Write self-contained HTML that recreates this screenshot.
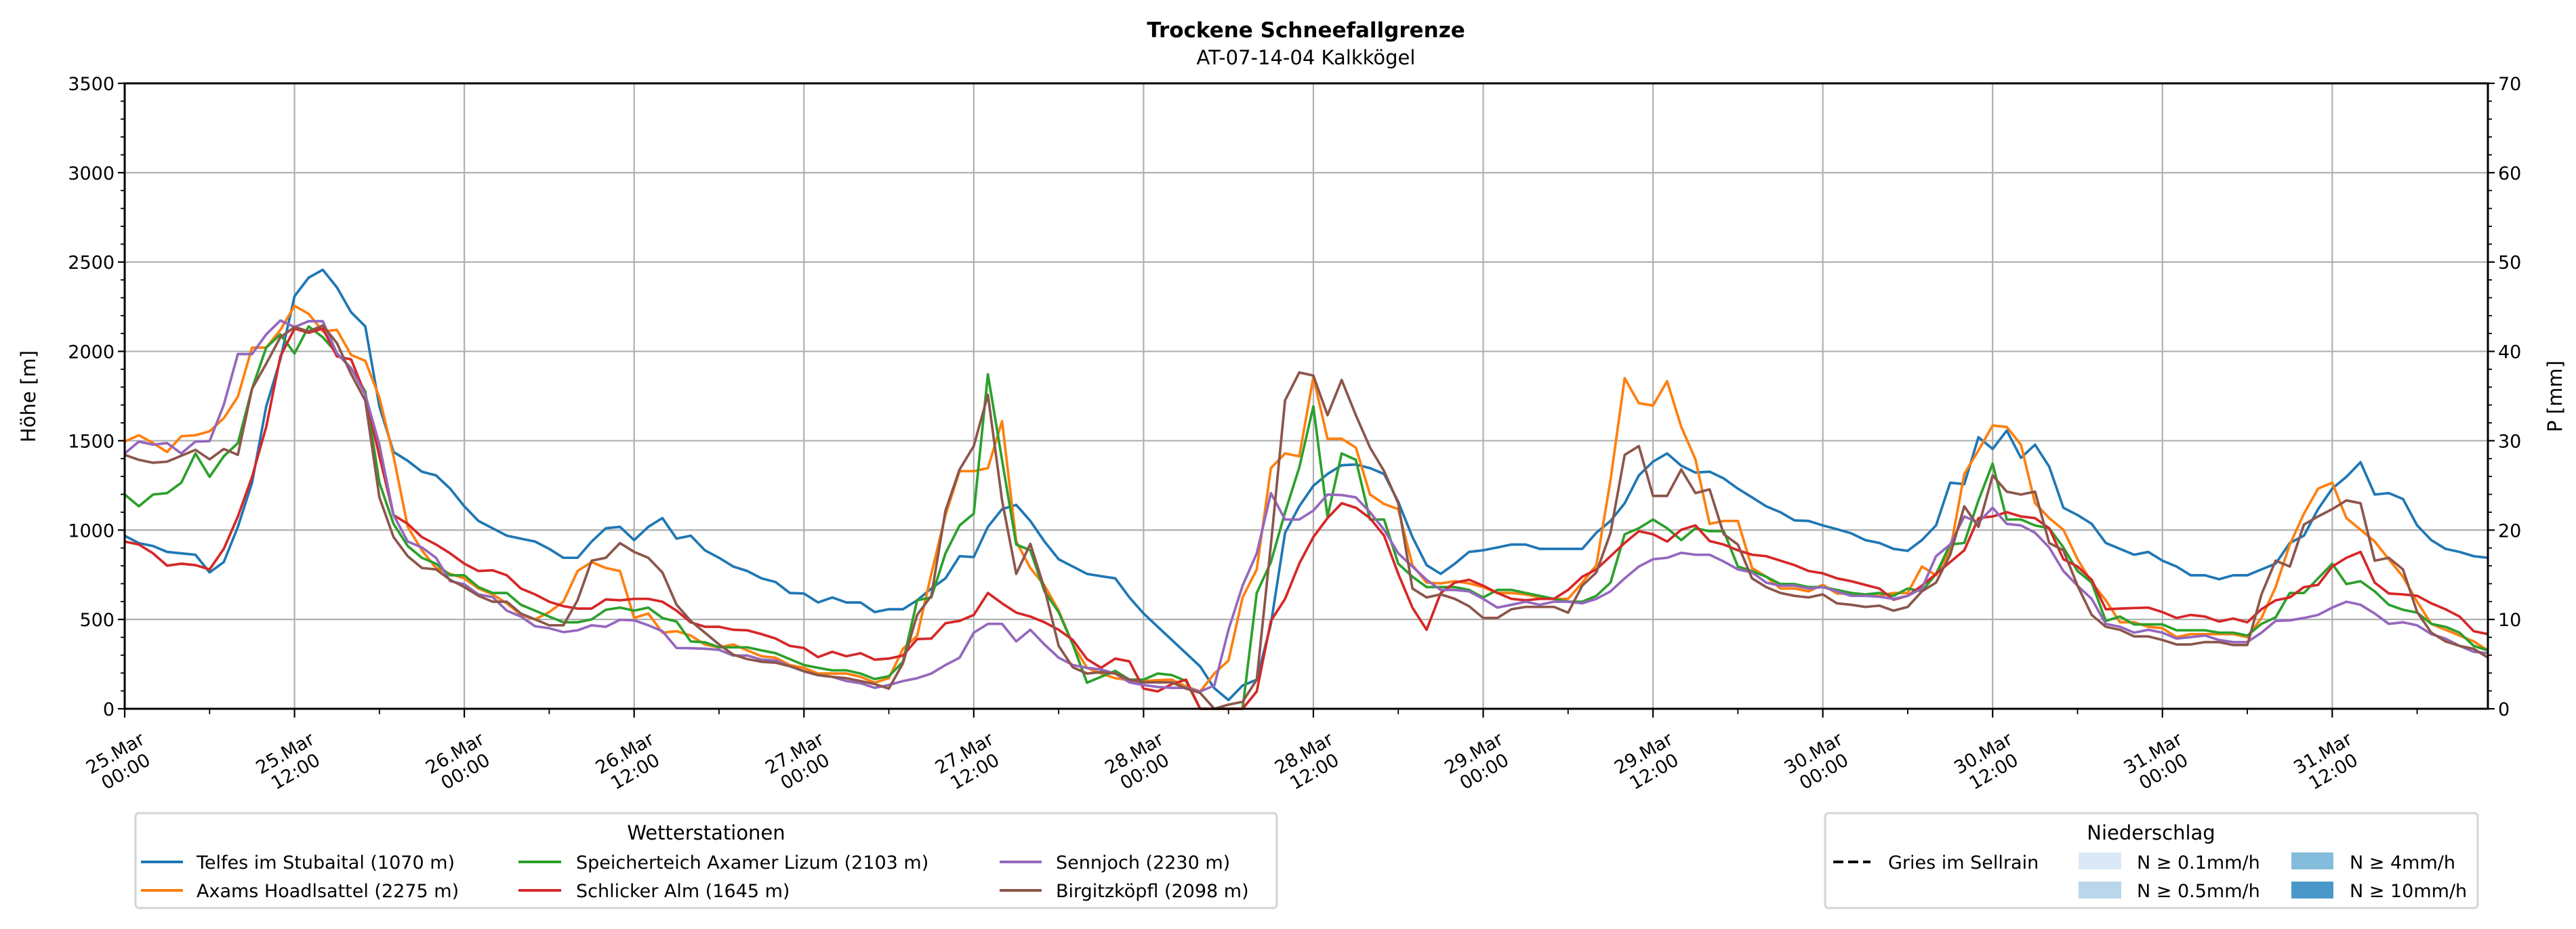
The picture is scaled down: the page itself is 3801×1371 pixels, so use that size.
<!DOCTYPE html>
<html><head><meta charset="utf-8"><style>
body{margin:0;background:#fff}
svg{display:block;font-family:"DejaVu Sans","Liberation Sans",sans-serif}
</style></head><body>
<svg id="chart" width="3801" height="1371" viewBox="0 0 3801 1371" xmlns="http://www.w3.org/2000/svg">
<rect width="3801" height="1371" fill="#fff"/>
<text x="1927" y="55" text-anchor="middle" font-size="31" font-weight="bold">Trockene Schneefallgrenze</text>
<text x="1927" y="95" text-anchor="middle" font-size="29">AT-07-14-04 Kalkkögel</text>
<g id="grid"></g>
<g id="series"></g>
<g id="axes"></g>
<text transform="translate(52,585) rotate(-90)" text-anchor="middle" font-size="29">Höhe [m]</text>
<text transform="translate(3780,585) rotate(-90)" text-anchor="middle" font-size="29">P [mm]</text>

<g>
<rect x="200" y="1200" width="1684" height="140" rx="5" fill="#fff" stroke="#d4d4d4" stroke-width="3"/>
<text x="1042" y="1239" text-anchor="middle" font-size="29">Wetterstationen</text>
<g><line x1="208" y1="1272" x2="270" y2="1272" stroke="#1f77b4" stroke-width="4"/><text x="290" y="1282" font-size="27">Telfes im Stubaital (1070 m)</text></g>
<g><line x1="208" y1="1314" x2="270" y2="1314" stroke="#ff7f0e" stroke-width="4"/><text x="290" y="1324" font-size="27">Axams Hoadlsattel (2275 m)</text></g>
<g><line x1="765" y1="1272" x2="828" y2="1272" stroke="#2ca02c" stroke-width="4"/><text x="850" y="1282" font-size="27">Speicherteich Axamer Lizum (2103 m)</text></g>
<g><line x1="765" y1="1314" x2="828" y2="1314" stroke="#d62728" stroke-width="4"/><text x="850" y="1324" font-size="27">Schlicker Alm (1645 m)</text></g>
<g><line x1="1475" y1="1272" x2="1537" y2="1272" stroke="#9467bd" stroke-width="4"/><text x="1558" y="1282" font-size="27">Sennjoch (2230 m)</text></g>
<g><line x1="1475" y1="1314" x2="1537" y2="1314" stroke="#8c564b" stroke-width="4"/><text x="1558" y="1324" font-size="27">Birgitzköpfl (2098 m)</text></g>
</g>

<g>
<rect x="2693" y="1200" width="963" height="140" rx="5" fill="#fff" stroke="#d4d4d4" stroke-width="3"/>
<text x="3174" y="1239" text-anchor="middle" font-size="29">Niederschlag</text>
<g><line x1="2705" y1="1272" x2="2760" y2="1272" stroke="#000" stroke-width="4" stroke-dasharray="15,7"/><text x="2786" y="1282" font-size="27">Gries im Sellrain</text></g>
<g><rect x="3067" y="1258" width="63" height="25" fill="#dbe9f6"/><text x="3153" y="1282" font-size="27">N ≥ 0.1mm/h</text></g>
<g><rect x="3067" y="1301" width="63" height="25" fill="#bad6eb"/><text x="3153" y="1324" font-size="27">N ≥ 0.5mm/h</text></g>
<g><rect x="3381" y="1258" width="62" height="25" fill="#84bcdb"/><text x="3467" y="1282" font-size="27">N ≥ 4mm/h</text></g>
<g><rect x="3381" y="1301" width="62" height="25" fill="#4a98c9"/><text x="3467" y="1324" font-size="27">N ≥ 10mm/h</text></g>
</g>
</svg>
<script>
const telfes = [968,927,911,878,870,862,763,821,1018,1265,1692,1955,2309,2413,2457,2358,2219,2140,1692,1437,1388,1327,1306,1232,1133,1051,1010,969,952,936,895,845,845,936,1010,1018,944,1018,1067,952,969,887,845,796,
771,730,709,648,645,595,623,595,595,541,557,557,607,673,730,854,849,1018,1117,1141,1051,936,837,796,755,742,730,623,533,459,385,311,237,115,49,130,163,475,985,1133,1248,1314,
1363,1367,1347,1314,1158,961,804,755,812,878,887,903,919,919,895,895,895,895,985,1051,1150,1306,1383,1429,1360,1322,1327,1289,1232,1183,1133,1100,1054,1051,1026,1005,982,944,928,895,884,944,
1026,1265,1257,1520,1454,1557,1404,1478,1355,1125,1084,1035,928,895,862,878,829,796,747,747,725,747,747,780,812,928,969,1117,1232,1298,1380,1199,1207,1174,1026,944,895,878,854,845];
const axams = [1495,1531,1487,1437,1525,1531,1553,1626,1747,2021,2021,2120,2255,2210,2112,2120,1980,1947,1742,1413,1018,887,788,755,730,673,640,590,525,500,541,599,771,821,788,771,508,533,426,434,410,360,343,360,
327,294,286,245,229,197,197,197,179,146,171,336,408,755,1084,1330,1330,1347,1610,936,788,690,549,360,229,197,171,160,155,160,163,125,97,197,270,623,780,1347,1429,1413,1856,1511,
1511,1462,1199,1146,1117,804,706,702,714,702,681,648,648,640,623,615,615,706,804,1280,1850,1710,1697,1833,1577,1396,1035,1051,1051,788,739,673,673,657,694,645,645,632,632,648,648,796,
747,887,1314,1446,1585,1577,1478,1150,1067,1002,837,706,607,484,484,459,451,401,418,418,418,418,401,508,681,919,1092,1232,1265,1067,1002,936,837,739,599,475,442,410,377,327];
const speicherteich = [1199,1133,1199,1207,1265,1429,1298,1413,1487,1791,2021,2095,1988,2140,2079,1988,1906,1775,1265,1035,911,845,812,747,747,681,648,648,582,549,516,484,484,500,554,566,549,566,508,488,377,372,344,344,
344,327,311,278,245,229,215,215,197,166,182,263,607,623,870,1026,1092,1872,1391,919,887,657,541,360,146,179,212,163,163,197,189,155,0,0,0,0,648,821,1100,1350,1692,1075,
1429,1393,1059,1059,812,739,681,681,681,665,623,665,665,648,632,615,599,599,632,706,977,1010,1059,1010,944,1010,994,994,796,771,739,698,698,681,681,665,648,640,648,632,673,657,
755,919,928,1166,1372,1059,1059,1026,1010,903,771,706,492,516,472,472,472,439,439,439,426,426,410,475,511,648,648,730,812,698,714,657,582,554,538,475,459,426,352,327];
const schlicker = [936,919,870,801,812,804,780,895,1076,1298,1577,1972,2128,2104,2128,1972,1955,1758,1413,1084,1035,961,919,870,812,771,775,747,673,640,599,574,561,561,612,607,615,615,599,549,484,459,459,442,
439,418,393,352,340,289,319,294,311,275,281,298,390,393,479,492,525,648,590,538,516,484,442,385,278,229,281,265,113,97,138,163,0,0,0,0,97,492,615,812,961,1067,
1150,1125,1067,969,755,566,442,648,706,722,689,648,615,607,615,615,665,739,780,854,928,994,977,936,1002,1026,939,919,887,862,854,829,804,771,758,730,714,693,673,610,632,689,
755,821,887,1067,1076,1100,1076,1067,1010,837,796,722,557,561,564,566,541,508,525,516,488,505,484,557,607,623,681,693,796,845,878,706,645,640,632,590,557,516,434,418];
const sennjoch = [1429,1495,1478,1487,1429,1495,1498,1701,1985,1985,2095,2173,2136,2169,2169,1988,1906,1758,1478,1084,936,903,845,714,697,640,625,549,516,462,451,429,439,467,459,498,495,467,434,340,339,336,330,298,
298,275,271,238,209,188,179,155,143,117,133,155,171,197,245,286,426,475,475,377,442,360,286,245,229,220,197,148,133,122,117,117,97,130,442,689,870,1207,1059,1059,1109,1199,
1196,1183,1100,1002,870,796,722,665,665,657,615,566,582,599,582,599,599,590,615,657,730,796,837,845,873,862,862,824,780,763,706,689,689,673,681,657,632,632,627,615,632,673,
854,919,1076,1043,1125,1035,1026,985,903,771,689,615,475,459,426,442,426,393,401,410,385,373,373,426,492,495,508,525,566,599,582,533,475,484,467,418,393,352,319,311];
const birgitz = [1421,1393,1377,1383,1416,1449,1396,1454,1421,1791,1931,2079,2136,2112,2145,2046,1873,1725,1183,961,854,788,780,722,681,632,599,599,533,500,467,467,607,829,845,927,878,845,763,582,492,426,360,303,
278,263,258,238,212,188,179,171,155,138,113,255,526,632,1109,1339,1470,1757,1166,755,923,673,352,232,197,205,197,163,148,148,148,113,89,0,23,39,163,919,1726,1882,1865,1643,
1840,1643,1462,1330,1150,673,623,640,615,574,508,508,557,570,570,570,538,689,763,985,1421,1470,1191,1191,1339,1207,1228,977,919,730,681,648,632,623,640,590,582,570,577,549,570,657,
706,862,1133,1018,1306,1215,1199,1215,928,887,689,525,459,442,405,405,385,360,360,373,373,357,357,640,829,796,1031,1076,1117,1166,1150,829,845,780,541,426,377,352,336,286];
const seriesNames = ["telfes","axams","speicherteich","schlicker","sennjoch","birgitz"];
const yTicks = [0,500,1000,1500,2000,2500,3000,3500];
const y2Ticks = [0,10,20,30,40,50,60,70];
const xDays = ["25.Mar","25.Mar","26.Mar","26.Mar","27.Mar","27.Mar","28.Mar","28.Mar","29.Mar","29.Mar","30.Mar","30.Mar","31.Mar","31.Mar"];
const xTimes = ["00:00","12:00","00:00","12:00","00:00","12:00","00:00","12:00","00:00","12:00","00:00","12:00","00:00","12:00"];

const NS="http://www.w3.org/2000/svg";
const L=184,R=3671,T=123,B=1046,HMAX=167,YMAX=3500,Y2MAX=70;
const xs=h=>L+(R-L)*h/HMAX;
const ys=v=>B-(B-T)*v/YMAX;
const ys2=v=>B-(B-T)*v/Y2MAX;
function mk(tag,attrs,parent){const e=document.createElementNS(NS,tag);for(const k in attrs)e.setAttribute(k,attrs[k]);parent.appendChild(e);return e;}
const grid=document.getElementById('grid'),axes=document.getElementById('axes'),ser=document.getElementById('series');

yTicks.forEach((v,i)=>{
  if(v>0&&v<YMAX){const g=mk('line',{x1:L,x2:R,y1:ys(v),y2:ys(v),stroke:'#b0b0b0','stroke-width':2.2},grid);
  
  }
  mk('line',{x1:L-10,x2:L,y1:ys(v),y2:ys(v),stroke:'#000','stroke-width':2.2},axes);
  const t=mk('text',{x:L-15,y:ys(v)+10,'text-anchor':'end','font-size':27},axes);t.textContent=v;
  
  
});
for(let v=100;v<YMAX;v+=100){if(v%500)mk('line',{x1:L-6,x2:L,y1:ys(v),y2:ys(v),stroke:'#000','stroke-width':1.8},axes);}
y2Ticks.forEach(v=>{
  mk('line',{x1:R,x2:R+10,y1:ys2(v),y2:ys2(v),stroke:'#000','stroke-width':2.2},axes);
  const t=mk('text',{x:R+15,y:ys2(v)+10,'font-size':27},axes);t.textContent=v;
  
  
});
for(let v=2;v<Y2MAX;v+=2){if(v%10)mk('line',{x1:R,x2:R+6,y1:ys2(v),y2:ys2(v),stroke:'#000','stroke-width':1.8},axes);}
xDays.forEach((d,i)=>{
  const h=i*12,x=xs(h);
  if(i>0){const g=mk('line',{x1:x,x2:x,y1:T,y2:B,stroke:'#b0b0b0','stroke-width':2.2},grid);
  
  }
  mk('line',{x1:x,x2:x,y1:B,y2:B+13,stroke:'#000','stroke-width':2.2},axes);
  const t=mk('text',{transform:`translate(${x-8},1122) rotate(-30)`,'text-anchor':'middle','font-size':27},axes);
  
  
  mk('tspan',{x:0,dy:'-0.1em'},t).textContent=d;
  mk('tspan',{x:0,dy:'1.15em'},t).textContent=xTimes[i];
  if(h+6<=HMAX){const xm=xs(h+6);mk('line',{x1:xm,x2:xm,y1:B,y2:B+8,stroke:'#000','stroke-width':1.8},axes);}
});
const cols=["#1f77b4","#ff7f0e","#2ca02c","#d62728","#9467bd","#8c564b"];
[telfes,axams,speicherteich,schlicker,sennjoch,birgitz].forEach((arr,k)=>{
  const p=mk('polyline',{points:arr.map((v,h)=>xs(h).toFixed(1)+','+ys(v).toFixed(1)).join(' '),fill:'none',stroke:cols[k],'stroke-width':3.7,'stroke-linejoin':'round'},ser);
  
  
});
mk('rect',{x:L,y:T,width:R-L,height:B-T,fill:'none',stroke:'#000','stroke-width':3},axes);
</script>
</body></html>
